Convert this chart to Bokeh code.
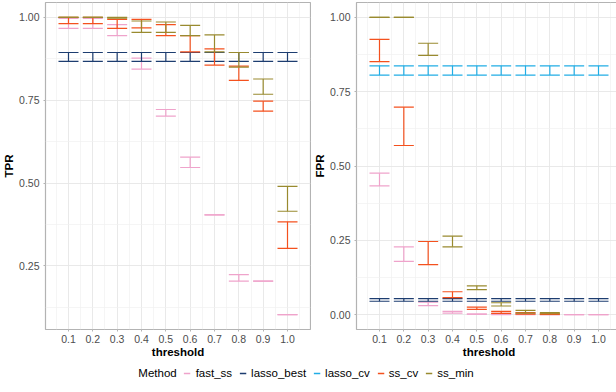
from bokeh.plotting import figure
from bokeh.models import (ColumnDataSource, Whisker, TeeHead, Range1d, FixedTicker,
                          PrintfTickFormatter, Legend, LegendItem)
from bokeh.layouts import row, column
from bokeh.embed import file_html
from bokeh.resources import INLINE
import math

nan = float("nan")

thresholds = [0.1, 0.2, 0.3, 0.4, 0.5, 0.6, 0.7, 0.8, 0.9, 1.0]
methods = ["fast_ss", "lasso_best", "lasso_cv", "ss_cv", "ss_min"]
colors = ["#EFA3CB", "#1D3D70", "#21ADE5", "#F4511E", "#998A2F"]

# ---- TPR (lower / upper ends of each error bar) ----
tpr_fast_ss_lo = [0.967, 0.967, 0.945, 0.844, 0.702, 0.547, 0.404, 0.204, 0.204, 0.103]
tpr_fast_ss_hi = [0.997, 0.997, 0.978, 0.877, 0.722, 0.578, 0.404, 0.224, 0.204, 0.103]
tpr_lasso_best_lo = [0.867, 0.867, 0.867, 0.867, 0.867, 0.867, 0.867, 0.867, 0.867, 0.867]
tpr_lasso_best_hi = [0.894, 0.894, 0.894, 0.894, 0.894, 0.894, 0.894, 0.894, 0.894, 0.894]
tpr_lasso_cv_lo = [nan, nan, nan, nan, nan, nan, nan, nan, nan, nan]
tpr_lasso_cv_hi = [nan, nan, nan, nan, nan, nan, nan, nan, nan, nan]
tpr_ss_cv_lo = [0.981, 0.981, 0.967, 0.968, 0.945, 0.896, 0.856, 0.810, 0.717, 0.303]
tpr_ss_cv_hi = [1.000, 1.000, 0.994, 0.994, 0.978, 0.945, 0.905, 0.853, 0.747, 0.383]
tpr_ss_min_lo = [1.000, 1.000, 0.998, 0.955, 0.955, 0.945, 0.896, 0.850, 0.768, 0.415]
tpr_ss_min_hi = [1.000, 1.000, 1.000, 0.989, 0.986, 0.976, 0.947, 0.894, 0.814, 0.490]

# ---- FPR ----
fpr_fast_ss_lo = [0.433, 0.179, 0.030, 0.005, 0.002, 0.000, 0.000, 0.000, 0.000, 0.000]
fpr_fast_ss_hi = [0.476, 0.228, 0.042, 0.011, 0.002, 0.004, 0.002, 0.000, 0.000, 0.000]
fpr_lasso_best_lo = [0.045, 0.045, 0.045, 0.045, 0.045, 0.045, 0.045, 0.045, 0.045, 0.045]
fpr_lasso_best_hi = [0.054, 0.054, 0.054, 0.054, 0.054, 0.054, 0.054, 0.054, 0.054, 0.054]
fpr_lasso_cv_lo = [0.806, 0.806, 0.806, 0.806, 0.806, 0.806, 0.806, 0.806, 0.806, 0.806]
fpr_lasso_cv_hi = [0.837, 0.837, 0.837, 0.837, 0.837, 0.837, 0.837, 0.837, 0.837, 0.837]
fpr_ss_cv_lo = [0.851, 0.569, 0.168, 0.057, 0.018, 0.004, 0.002, 0.001, nan, nan]
fpr_ss_cv_hi = [0.926, 0.698, 0.246, 0.077, 0.025, 0.011, 0.007, 0.003, nan, nan]
fpr_ss_min_lo = [1.000, 1.000, 0.872, 0.228, 0.084, 0.029, 0.005, 0.003, nan, nan]
fpr_ss_min_hi = [1.000, 1.000, 0.913, 0.264, 0.097, 0.040, 0.014, 0.007, nan, nan]

x_ticks = [0.1, 0.2, 0.3, 0.4, 0.5, 0.6, 0.7, 0.8, 0.9, 1.0]
x_minor = [0.05, 0.15, 0.25, 0.35, 0.45, 0.55, 0.65, 0.75, 0.85, 0.95, 1.05]
tpr_ticks = [0.25, 0.50, 0.75, 1.00]
fpr_ticks = [0.00, 0.25, 0.50, 0.75, 1.00]
y_minor = [0.125, 0.375, 0.625, 0.875]

tpr = {
    "fast_ss": (tpr_fast_ss_lo, tpr_fast_ss_hi),
    "lasso_best": (tpr_lasso_best_lo, tpr_lasso_best_hi),
    "lasso_cv": (tpr_lasso_cv_lo, tpr_lasso_cv_hi),
    "ss_cv": (tpr_ss_cv_lo, tpr_ss_cv_hi),
    "ss_min": (tpr_ss_min_lo, tpr_ss_min_hi),
}
fpr = {
    "fast_ss": (fpr_fast_ss_lo, fpr_fast_ss_hi),
    "lasso_best": (fpr_lasso_best_lo, fpr_lasso_best_hi),
    "lasso_cv": (fpr_lasso_cv_lo, fpr_lasso_cv_hi),
    "ss_cv": (fpr_ss_cv_lo, fpr_ss_cv_hi),
    "ss_min": (fpr_ss_min_lo, fpr_ss_min_hi),
}

FONT = "Liberation Sans"
CAP_HALF = 0.045  # half-width of error bar caps, in threshold units


def data_range(vals):
    lo, hi = min(vals), max(vals)
    ext = (hi - lo) * 0.05
    return lo - ext, hi + ext


def make_panel(data, label, yticks, cap_px):
    allv = [v for lo, hi in data.values() for v in lo + hi if not math.isnan(v)]
    y0, y1 = data_range(allv)
    xs = [t + d for t in thresholds for d in (-CAP_HALF, CAP_HALF)]
    x0, x1 = data_range(xs)
    p = figure(frame_width=265, frame_height=327, output_backend="svg", toolbar_location=None,
               x_range=Range1d(x0, x1), y_range=Range1d(y0, y1),
               min_border_left=0, min_border_right=1, min_border_top=2, min_border_bottom=0)
    p.background_fill_color = "white"
    p.outline_line_color = "#B3B3B3"
    p.outline_line_width = 1.2

    p.xaxis.ticker = FixedTicker(ticks=x_ticks, minor_ticks=x_minor)
    p.yaxis.ticker = FixedTicker(ticks=yticks, minor_ticks=y_minor)
    p.xgrid.ticker = FixedTicker(ticks=x_ticks, minor_ticks=x_minor)
    p.ygrid.ticker = FixedTicker(ticks=yticks, minor_ticks=y_minor)
    p.xaxis.formatter = PrintfTickFormatter(format="%.1f")
    p.yaxis.formatter = PrintfTickFormatter(format="%.2f")
    for g in (p.xgrid, p.ygrid):
        g.grid_line_color = "#E6E6E6"
        g.grid_line_width = 0.9
        g.minor_grid_line_color = "#F1F1F1"
        g.minor_grid_line_width = 0.7
    for ax in (p.xaxis, p.yaxis):
        ax.axis_line_color = None
        ax.major_tick_line_color = "#B3B3B3"
        ax.major_tick_out = 2
        ax.major_tick_in = 0
        ax.minor_tick_line_color = None
        ax.major_label_text_color = "#4D4D4D"
        ax.major_label_text_font = FONT
        ax.major_label_text_font_size = "10.5px"
        ax.major_label_standoff = 2
        ax.axis_label_text_font = FONT
        ax.axis_label_text_font_size = "11.5px"
        ax.axis_label_text_font_style = "bold"
        ax.axis_label_text_color = "black"
        ax.axis_label_standoff = 1
    p.xaxis.major_label_standoff = 1
    p.xaxis.axis_label_standoff = 0
    p.xaxis.axis_label = "threshold"
    p.yaxis.axis_label = label

    for m, c in zip(methods, colors):
        lo, hi = data[m]
        keep = [i for i in range(len(thresholds)) if not (math.isnan(lo[i]) or math.isnan(hi[i]))]
        if not keep:
            continue
        src = ColumnDataSource(dict(x=[thresholds[i] for i in keep],
                                    lo=[lo[i] for i in keep],
                                    hi=[hi[i] for i in keep]))
        w = Whisker(source=src, base="x", lower="lo", upper="hi", dimension="height",
                    line_color=c, line_width=1.2, level="annotation",
                    upper_head=TeeHead(size=cap_px, line_color=c, line_width=1.2),
                    lower_head=TeeHead(size=cap_px, line_color=c, line_width=1.2))
        p.add_layout(w)
    return p


p1 = make_panel(tpr, "TPR", tpr_ticks, 20)
p2 = make_panel(fpr, "FPR", fpr_ticks, 20)

# legend strip: proxy renderers hold no drawable points (NaN), only styles for the keys
lf = figure(width=600, height=26, output_backend="svg", toolbar_location=None,
            x_range=Range1d(0, 1), y_range=Range1d(0, 1),
            min_border=0)
lf.axis.visible = False
lf.grid.visible = False
lf.outline_line_color = None
items = []
r0 = lf.line(x=[nan], y=[nan], line_alpha=0)
items.append(LegendItem(label="Method", renderers=[r0]))
for m, c in zip(methods, colors):
    r = lf.line(x=[nan], y=[nan], line_color=c, line_width=1.3)
    items.append(LegendItem(label=m, renderers=[r]))
leg = Legend(items=items, orientation="horizontal", location="center",
             glyph_width=7, glyph_height=12, label_standoff=5,
             spacing=7, padding=2, margin=0, border_line_color=None,
             background_fill_alpha=0,
             label_text_font=FONT, label_text_font_size="11.5px", label_text_color="black")
lf.add_layout(leg, "center")

layout = column(row(p1, p2), lf)
open("out.html", "w").write(file_html(layout, INLINE))
